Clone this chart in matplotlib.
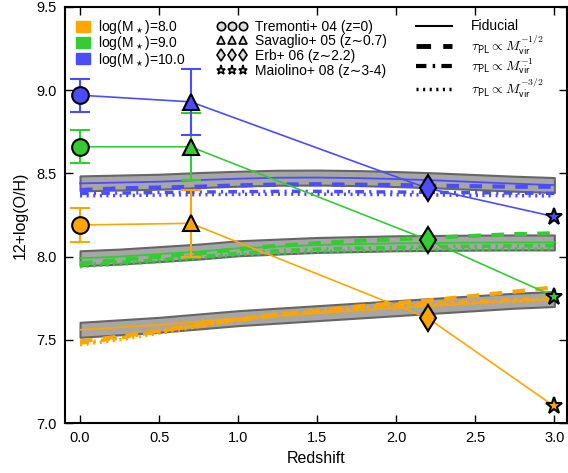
import matplotlib
matplotlib.use("Agg")
import matplotlib.pyplot as plt
from matplotlib.lines import Line2D
from matplotlib.patches import Patch
import numpy as np

plt.rcParams['font.family'] = ['Liberation Sans', 'DejaVu Sans']
plt.rcParams['mathtext.fontset'] = 'cm'

# ---- data ----
masses = ["8.0", "9.0", "10.0"]
colors = ["#FFA500", "#33CC33", "#4C4CFF"]

obs_z = [0.0, 0.7, 2.2, 3.0]
obs_markers = ["o", "^", "d", "*"]
obs_labels = ["Tremonti+ 04 (z=0)", "Savaglio+ 05 (z\u223c0.7)",
              "Erb+ 06 (z\u223c2.2)", "Maiolino+ 08 (z\u223c3-4)"]
obs_8 = [8.19, 8.20, 7.63, 7.10]
obs_9 = [8.66, 8.66, 8.10, 7.76]
obs_10 = [8.97, 8.93, 8.41, 8.24]
err_z = [0.0, 0.7]
err_vals = [0.10, 0.20]

z_mod = [0.0, 0.25, 0.5, 0.75, 1.0, 1.25, 1.5, 1.75, 2.0, 2.25, 2.5, 2.75, 3.0]
fid_8 = [7.56, 7.575, 7.59, 7.61, 7.63, 7.645, 7.66, 7.675, 7.69, 7.705, 7.72, 7.735, 7.745]
fid_9 = [7.99, 8.0, 8.015, 8.03, 8.05, 8.06, 8.07, 8.075, 8.08, 8.082, 8.084, 8.085, 8.085]
fid_10 = [8.44, 8.445, 8.45, 8.46, 8.468, 8.474, 8.475, 8.472, 8.466, 8.458, 8.448, 8.438, 8.43]
band_hw = 0.045

dash_8 = [7.49, 7.52, 7.555, 7.59, 7.62, 7.65, 7.675, 7.70, 7.72, 7.74, 7.765, 7.79, 7.815]
dash_9 = [7.96, 7.98, 8.0, 8.02, 8.045, 8.065, 8.08, 8.095, 8.105, 8.115, 8.125, 8.135, 8.14]
dash_10 = [8.40, 8.41, 8.415, 8.42, 8.428, 8.433, 8.435, 8.432, 8.43, 8.426, 8.423, 8.42, 8.42]

dd_8 = [7.48, 7.51, 7.55, 7.59, 7.625, 7.655, 7.675, 7.695, 7.71, 7.72, 7.73, 7.74, 7.75]
dd_9 = [7.95, 7.965, 7.98, 8.0, 8.02, 8.035, 8.045, 8.05, 8.055, 8.06, 8.062, 8.064, 8.065]
dd_10 = [8.38, 8.382, 8.385, 8.388, 8.39, 8.392, 8.392, 8.39, 8.388, 8.386, 8.384, 8.382, 8.38]

dot_8 = [7.47, 7.50, 7.54, 7.58, 7.615, 7.645, 7.665, 7.685, 7.70, 7.71, 7.72, 7.73, 7.74]
dot_9 = [7.94, 7.955, 7.97, 7.99, 8.01, 8.02, 8.03, 8.035, 8.04, 8.042, 8.044, 8.045, 8.045]
dot_10 = [8.365, 8.367, 8.37, 8.372, 8.374, 8.375, 8.375, 8.374, 8.372, 8.37, 8.368, 8.366, 8.365]

obs_all = [obs_8, obs_9, obs_10]
fid_all = [fid_8, fid_9, fid_10]
dash_all = [dash_8, dash_9, dash_10]
dd_all = [dd_8, dd_9, dd_10]
dot_all = [dot_8, dot_9, dot_10]

fig = plt.figure(figsize=(5.68, 4.73), dpi=100)
ax = fig.add_axes([65/568, 50/473, (567-65)/568, (423-7)/473])

zm = np.array(z_mod)
for i in range(3):
    fid = np.array(fid_all[i])
    ax.fill_between(zm, fid - band_hw, fid + band_hw, facecolor="#a6a6a6",
                    edgecolor="#666666", lw=1.5, zorder=1)
    c = colors[i]
    ax.plot(zm, fid, color=c, lw=1.3, zorder=2)
    ax.plot(zm, dash_all[i], color=c, lw=3, ls=(0, (3, 2.5)), zorder=2)
    ax.plot(zm, dd_all[i], color=c, lw=2.5, ls=(0, (2.5, 1.5, 0.6, 1.5)), zorder=2)
    ax.plot(zm, dot_all[i], color=c, lw=2.5, ls=(0, (0.6, 1.3)), zorder=2)

msizes = {"o": 12, "^": 12, "d": 13.5, "*": 12.5}
for i in range(3):
    c = colors[i]
    vals = obs_all[i]
    ax.plot(obs_z, vals, color=c, lw=1.2, zorder=3)
    ax.errorbar(err_z, vals[:2], yerr=err_vals, fmt="none", ecolor=c,
                elinewidth=1.5, capsize=7.5, capthick=1.5, zorder=3)
    for zz, v, m in zip(obs_z, vals, obs_markers):
        ax.plot([zz], [v], marker=m, ms=msizes[m], mfc=c, mec="black", mew=1.5,
                ls="none", zorder=4)

ax.set_xlim(-0.095, 3.08)
ax.set_ylim(7.0, 9.5)
ax.set_xticks([0.0, 0.5, 1.0, 1.5, 2.0, 2.5, 3.0])
ax.set_yticks([7.0, 7.5, 8.0, 8.5, 9.0, 9.5])
ax.xaxis.set_major_formatter(matplotlib.ticker.FormatStrFormatter("%.1f"))
ax.yaxis.set_major_formatter(matplotlib.ticker.FormatStrFormatter("%.1f"))
ax.tick_params(direction="in", top=True, right=True, length=6, width=1,
               labelsize=10.5, pad=6)
for s in ax.spines.values():
    s.set_linewidth(1.5)
ax.set_xlabel("Redshift", fontsize=11.5, labelpad=4)
ax.set_ylabel("12+log(O/H)", fontsize=11.5, labelpad=6)

# legends
h1 = [Patch(facecolor=c, edgecolor=c) for c in colors]
l1 = ["log(M$_\\star$)=" + m for m in masses]
leg1 = ax.legend(h1, l1, loc="upper left", bbox_to_anchor=(0.0, 1.0), frameon=False,
                 fontsize=10, handlelength=1.0, handleheight=0.8, handletextpad=0.6,
                 labelspacing=-0.12, borderaxespad=0.4)
ax.add_artist(leg1)

h2 = [Line2D([], [], marker=m, ls="none", mfc="#dddddd", mec="black", mew=1.2,
             ms={"o": 6, "^": 5.5, "d": 6.5, "*": 6.5}[m]) for m in obs_markers]
leg2 = ax.legend(h2, obs_labels, loc="upper left", bbox_to_anchor=(0.277, 1.0),
                 frameon=False, fontsize=10, numpoints=3, handlelength=2.2,
                 handletextpad=0.6, labelspacing=0.05, borderaxespad=0.5)
ax.add_artist(leg2)

h3 = [Line2D([], [], color="black", lw=1.5),
      Line2D([], [], color="black", lw=3.5, ls=(0, (3, 2.5))),
      Line2D([], [], color="black", lw=3, ls=(0, (2.5, 1.5, 0.6, 1.5))),
      Line2D([], [], color="black", lw=2.5, ls=(0, (0.6, 1.3)))]
l3 = ["Fiducial",
      "$\\tau_{\\mathsf{PL}} \\propto M_{\\mathsf{vir}}^{-1/2}$",
      "$\\tau_{\\mathsf{PL}} \\propto M_{\\mathsf{vir}}^{-1}$",
      "$\\tau_{\\mathsf{PL}} \\propto M_{\\mathsf{vir}}^{-3/2}$"]
leg3 = ax.legend(h3, l3, loc="upper left", bbox_to_anchor=(0.675, 1.0), frameon=False,
                 fontsize=10, handlelength=2.6, handletextpad=1.3, labelspacing=0.0,
                 borderaxespad=0.5)

fig.savefig("out.png", dpi=100)
